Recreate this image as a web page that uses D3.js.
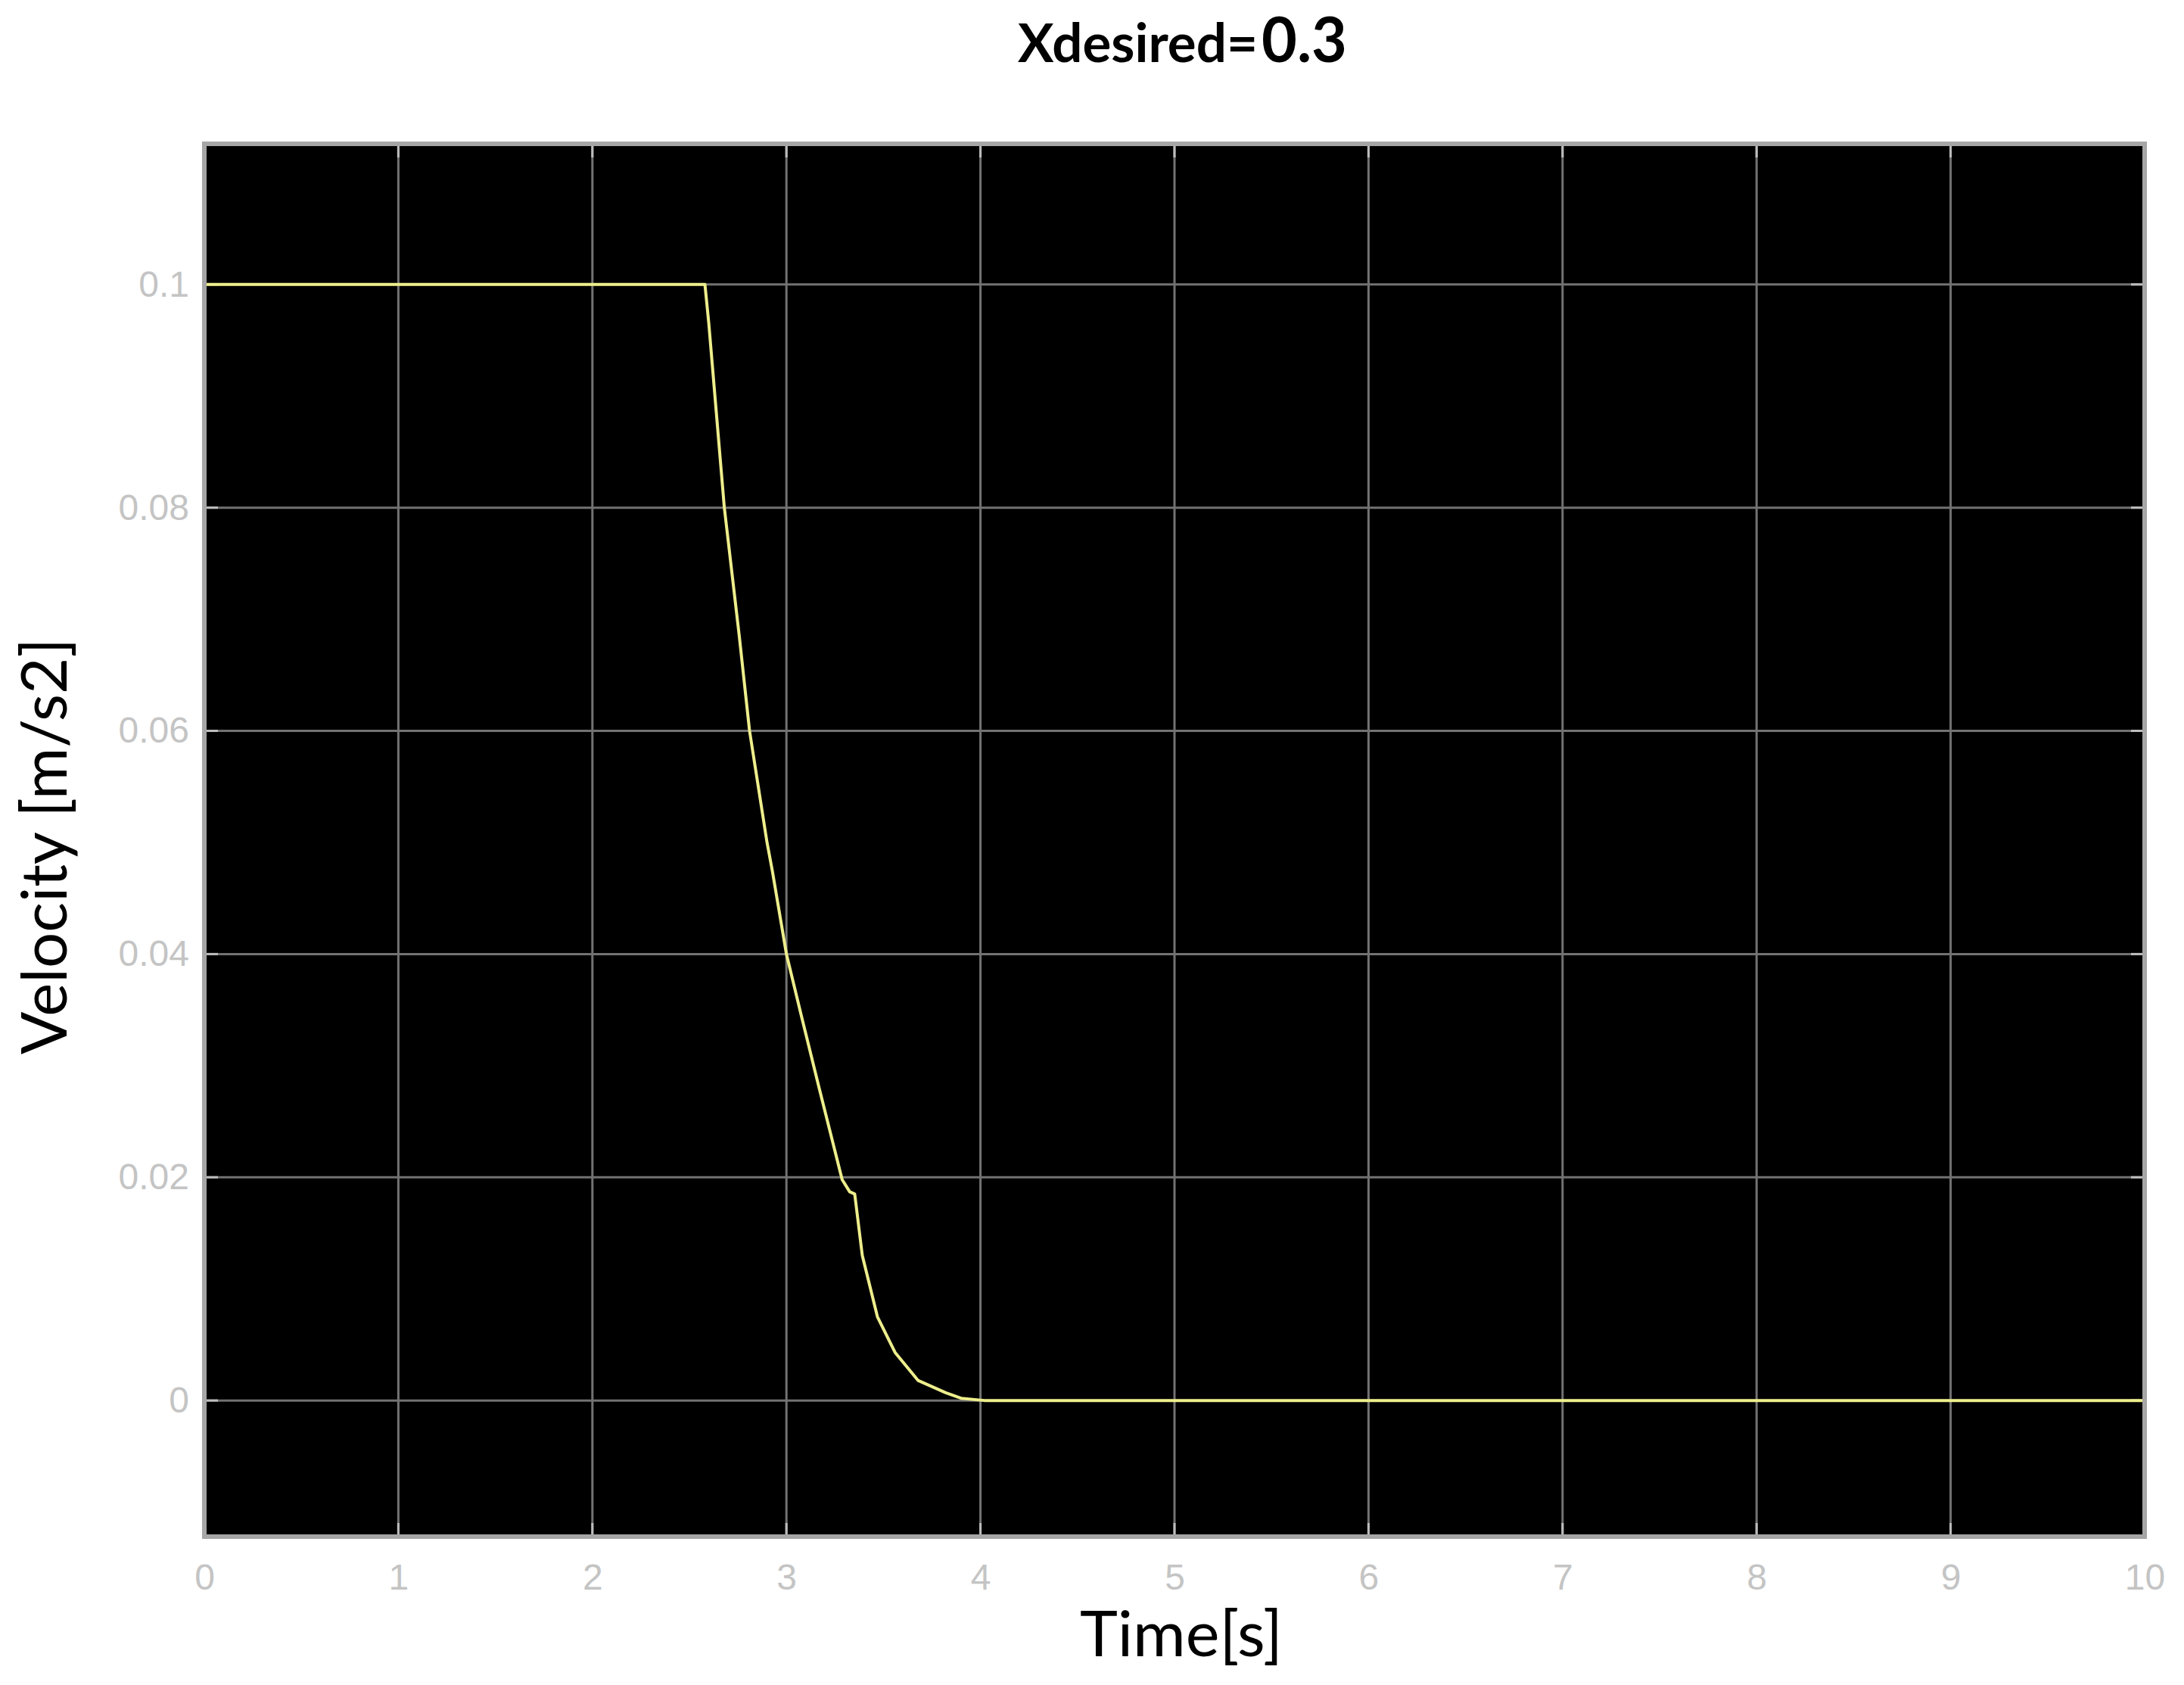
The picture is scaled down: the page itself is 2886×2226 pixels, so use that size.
<!DOCTYPE html>
<html>
<head>
<meta charset="utf-8">
<script src="https://cdn.jsdelivr.net/npm/d3@7"></script>
<style>
  html, body { margin: 0; padding: 0; background: #ffffff; }
  svg { display: block; }
</style>
</head>
<body>
<script>
// ---- data ----
const titleMain = "Xdesired=";
const titleValue = "0.3";
const xLabel = "Time[s]";
const yLabel = "Velocity [m/s2]";
const xTicks = [0, 1, 2, 3, 4, 5, 6, 7, 8, 9, 10];
const yTicks = [0, 0.02, 0.04, 0.06, 0.08, 0.1];
const yTickLabels = ["0", "0.02", "0.04", "0.06", "0.08", "0.1"];
const time = [0, 2.58, 2.60, 2.68, 2.757, 2.81, 2.90, 2.928, 3.0, 3.078, 3.17, 3.287, 3.326, 3.352, 3.391, 3.469, 3.56, 3.678, 3.821, 3.90, 4.02, 10];
const velocity = [0.1, 0.1, 0.0965, 0.08, 0.0685, 0.06, 0.05, 0.0474, 0.04, 0.0344, 0.0279, 0.0198, 0.0187, 0.0185, 0.013, 0.0075, 0.0043, 0.0018, 0.0007, 0.0002, 0, 0];

// ---- layout ----
const W = 2886, H = 2226;
const svg = d3.select("body").append("svg").attr("width", W).attr("height", H);
svg.append("rect").attr("width", W).attr("height", H).attr("fill", "#ffffff");

const x = d3.scaleLinear().domain([0, 10]).range([270, 2834]);
const y = d3.scaleLinear().domain([-0.0122, 0.1126]).range([2030, 190]);
const [x0, x1] = x.range();
const [yb, yt] = y.range();

// plot background
svg.append("rect")
  .attr("x", x0).attr("y", yt).attr("width", x1 - x0).attr("height", yb - yt)
  .attr("fill", "#000000");

// grid
const grid = svg.append("g").attr("stroke", "#727272").attr("stroke-width", 3);
grid.selectAll(".gx").data(xTicks.slice(1, -1)).join("line")
  .attr("x1", d => x(d)).attr("x2", d => x(d)).attr("y1", yt).attr("y2", yb);
grid.selectAll(".gy").data(yTicks).join("line")
  .attr("x1", x0).attr("x2", x1).attr("y1", d => y(d)).attr("y2", d => y(d));

// inner tick marks on all sides
const tk = svg.append("g").attr("stroke", "#bdbdbd").attr("stroke-width", 3);
const tl = 18;
tk.selectAll(".tb").data(xTicks).join("line")
  .attr("x1", d => x(d)).attr("x2", d => x(d)).attr("y1", yb).attr("y2", yb - tl);
tk.selectAll(".tt").data(xTicks).join("line")
  .attr("x1", d => x(d)).attr("x2", d => x(d)).attr("y1", yt).attr("y2", yt + tl);
tk.selectAll(".tl").data(yTicks).join("line")
  .attr("x1", x0).attr("x2", x0 + tl).attr("y1", d => y(d)).attr("y2", d => y(d));
tk.selectAll(".tr").data(yTicks).join("line")
  .attr("x1", x1).attr("x2", x1 - tl).attr("y1", d => y(d)).attr("y2", d => y(d));

// data line
const pts = time.map((t, i) => [t, velocity[i]]);
const line = d3.line().x(d => x(d[0])).y(d => y(d[1]));
svg.append("path").datum(pts)
  .attr("d", line)
  .attr("fill", "none")
  .attr("stroke", "#eeee8c")
  .attr("stroke-width", 4)
  .attr("stroke-linejoin", "round");

// frame
svg.append("rect")
  .attr("x", x0).attr("y", yt).attr("width", x1 - x0).attr("height", yb - yt)
  .attr("fill", "none").attr("stroke", "#a6a6a6").attr("stroke-width", 6);

// axes labels (tick values)
const xAxis = svg.append("g").attr("transform", `translate(0,${yb})`)
  .call(d3.axisBottom(x).tickValues(xTicks).tickFormat(d3.format("d")).tickSize(0).tickPadding(36));
const yAxis = svg.append("g").attr("transform", `translate(${x0},0)`)
  .call(d3.axisLeft(y).tickValues(yTicks).tickFormat((d, i) => yTickLabels[i]).tickSize(0).tickPadding(20));
[xAxis, yAxis].forEach(g => {
  g.select(".domain").remove();
  g.selectAll("text")
    .attr("fill", "#c4c4c4")
    .style("font-family", "'Liberation Sans', Arial, sans-serif")
    .style("font-size", "48px");
});

// axis titles
svg.append("text")
  .attr("x", 1427).attr("y", 2188)
  .attr("textLength", 268).attr("lengthAdjust", "spacingAndGlyphs")
  .style("font-family", "Lato, 'Open Sans', sans-serif")
  .style("font-size", "84px")
  .attr("fill", "#000")
  .text(xLabel);

svg.append("text")
  .attr("transform", "translate(88,1393) rotate(-90)")
  .attr("x", 0).attr("y", 0)
  .attr("textLength", 550).attr("lengthAdjust", "spacingAndGlyphs")
  .style("font-family", "Lato, 'Open Sans', sans-serif")
  .style("font-size", "84px")
  .attr("fill", "#000")
  .text(yLabel);

// title
svg.append("text")
  .attr("x", 1345).attr("y", 82)
  .attr("textLength", 317).attr("lengthAdjust", "spacingAndGlyphs")
  .style("font-family", "Lato, 'Open Sans', sans-serif")
  .style("font-weight", "bold")
  .style("font-size", "70px")
  .attr("fill", "#000")
  .text(titleMain);
svg.append("text")
  .attr("x", 1667).attr("y", 82)
  .attr("textLength", 113).attr("lengthAdjust", "spacingAndGlyphs")
  .style("font-family", "Lato, 'Open Sans', sans-serif")
  .style("font-weight", "bold")
  .style("font-size", "82px")
  .attr("fill", "#000")
  .text(titleValue);
</script>
</body>
</html>
